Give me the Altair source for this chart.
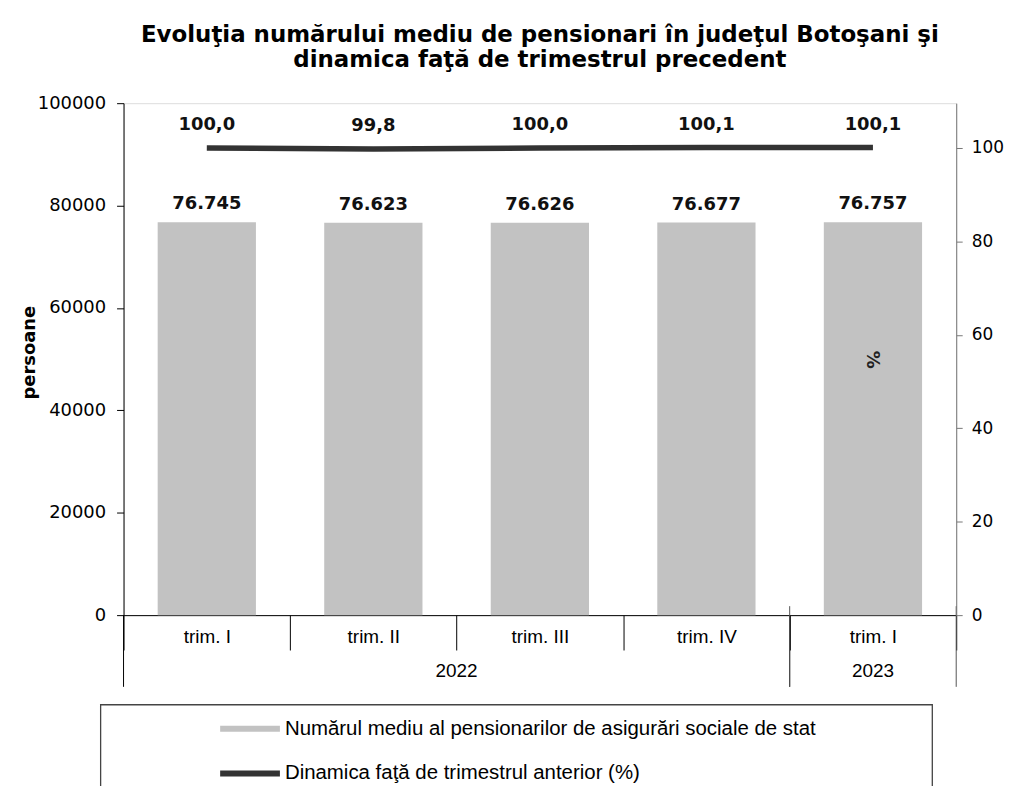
import json
import altair as alt
import pandas as pd

# ---- data ----
quarters = ["trim. I", "trim. II", "trim. III", "trim. IV", "trim. I"]
years = ["2022", "2022", "2022", "2022", "2023"]
pensioners = [76745, 76623, 76626, 76677, 76757]
dynamics = [100.0, 99.8, 100.0, 100.1, 100.1]

left_ticks = [0, 20000, 40000, 60000, 80000, 100000]
right_ticks = [0, 20, 40, 60, 80, 100]

title_lines = [
    "Evoluţia numărului mediu de pensionari în judeţul Botoşani şi",
    "dinamica  faţă de trimestrul precedent",
]
series_bar = "Numărul mediu al pensionarilor de asigurări sociale de stat"
series_line = "Dinamica faţă de trimestrul anterior (%)"

# ---- tables built from the arrays ----
keys = [f"{y} {q}" for y, q in zip(years, quarters)]
df = pd.DataFrame({"key": keys, "persons": pensioners, "dyn": dynamics})

year_groups = {}
for k, y in zip(keys, years):
    year_groups.setdefault(y, []).append(k)

first_keys = pd.DataFrame({"key": [v[0] for v in year_groups.values()]})
last_keys = pd.DataFrame({"key": [v[-1] for v in year_groups.values()]})
# year label anchors: middle of each year's categories
odd_rows, even_rows = [], []
for y, ks in year_groups.items():
    n = len(ks)
    if n % 2 == 1:
        odd_rows.append({"key": ks[n // 2], "year": y})
    else:
        even_rows.append({"key": ks[n // 2 - 1], "year": y})

FONT_NUM = "DejaVu Sans"
FONT_TXT = "Liberation Sans"

x_scale = alt.Scale(domain=keys, paddingInner=0, paddingOuter=0)
x_axis = alt.Axis(
    title=None,
    labelExpr="substring(datum.label, 5)",
    tickBand="extent",
    tickSize=35,
    tickColor="black",
    domainColor="black",
    labelPadding=-23,
    labelAngle=0,
    labelFont=FONT_TXT,
    labelFontSize=19,
    labelColor="black",
    grid=False,
)


def xenc(band=0.5):
    return alt.X("key:N", scale=x_scale, axis=x_axis, sort=keys, bandPosition=band)


base = alt.Chart(df)

left_y = alt.Y(
    "persons:Q",
    scale=alt.Scale(domain=[0, 100000], nice=False),
    axis=alt.Axis(
        values=left_ticks,
        format="d",
        title="persoane",
        titleFont=FONT_NUM,
        titleFontSize=18,
        titleFontWeight="bold",
        titleColor="black",
        titleX=-94,
        titleY=250,
        titleAngle=270,
        titleAlign="center",
        titleBaseline="middle",
        labelFont=FONT_NUM,
        labelFontSize=18,
        labelColor="black",
        tickColor="black",
        domainColor="black",
        tickSize=7,
        labelPadding=11,
        grid=False,
    ),
)

bars = base.mark_bar(width=alt.RelativeBandSize(0.59), color="#c2c2c2").encode(
    x=xenc(), y=left_y
)
bar_labels = base.mark_text(
    dy=-13, baseline="alphabetic", font=FONT_NUM, fontSize=18, fontWeight="bold", color="#111"
).encode(x=xenc(), y=left_y, text=alt.Text("persons:Q", format=",d"))

right_y = alt.Y(
    "dyn:Q",
    scale=alt.Scale(domain=[0, 109.6], nice=False),
    axis=alt.Axis(
        orient="right",
        values=right_ticks,
        title="%",
        titleX=-85,
        titleY=257,
        titleAngle=90,
        titleAlign="center",
        titleBaseline="middle",
        titleFont=FONT_NUM,
        titleFontSize=18,
        titleFontWeight="bold",
        titleColor="#222",
        labelFont=FONT_NUM,
        labelFontSize=17,
        labelColor="black",
        tickColor="#777",
        domainColor="#777",
        tickSize=6,
        labelPadding=9,
        grid=False,
        zindex=1,
    ),
)

line = (
    base.transform_calculate(series=json.dumps(series_line))
    .mark_line(strokeWidth=5.5, strokeCap="butt")
    .encode(
        x=xenc(),
        y=right_y,
        color=alt.Color(
            "series:N",
            scale=alt.Scale(domain=[series_bar, series_line], range=["#c2c2c2", "#333333"]),
            legend=alt.Legend(
                title=None,
                orient="none",
                legendX=94,
                legendY=595,
                direction="vertical",
                symbolType="stroke",
                symbolSize=3600,
                symbolStrokeWidth=6,
                labelFont=FONT_TXT,
                labelFontSize=20.5,
                labelColor="black",
                labelOffset=2,
                rowPadding=-17,
                labelLimit=800,
            ),
        ),
    )
)
line_labels = base.mark_text(
    dy=-18, baseline="alphabetic", font=FONT_NUM, fontSize=18, fontWeight="bold", color="#111"
).encode(x=xenc(), y=right_y, text=alt.Text("dyn:Q", format=".1f"))

# extended separators under the axis (year boundaries)
sep_first = alt.Chart(first_keys).mark_rule(color="black", strokeWidth=1).encode(
    x=xenc(0), y=alt.value(514), y2=alt.value(586)
)
sep_last = alt.Chart(last_keys).mark_rule(color="#555", strokeWidth=1).encode(
    x=xenc(1), y=alt.value(505), y2=alt.value(586)
)

year_text_kw = dict(font=FONT_TXT, fontSize=19, color="black", baseline="middle", align="center")
year_layers = []
if odd_rows:
    year_layers.append(
        alt.Chart(pd.DataFrame(odd_rows)).mark_text(**year_text_kw).encode(
            x=xenc(0.5), y=alt.value(570), text="year:N"
        )
    )
if even_rows:
    year_layers.append(
        alt.Chart(pd.DataFrame(even_rows)).mark_text(**year_text_kw).encode(
            x=xenc(1), y=alt.value(570), text="year:N"
        )
    )

legend_box = alt.Chart(pd.DataFrame({"b": [0]})).mark_rect(
    fill="white", fillOpacity=0, stroke="#444", strokeWidth=1.3
).encode(x=alt.value(-23), x2=alt.value(812), y=alt.value(604), y2=alt.value(720))

left_layer = alt.layer(bars, bar_labels)
right_layer = alt.layer(line, line_labels)

chart = (
    alt.layer(left_layer, right_layer, sep_first, sep_last, *year_layers, legend_box)
    .resolve_scale(y="independent")
    .properties(
        width=836,
        height=514,
        title=alt.Title(
            title_lines,
            font=FONT_NUM,
            fontSize=23,
            fontWeight="bold",
            color="black",
            lineHeight=25,
            anchor="middle",
            offset=22,
        ),
        autosize=alt.AutoSizeParams(type="none"),
        padding={"left": 116, "top": 94, "right": 52, "bottom": 170},
    )
    .configure_view(stroke=None)
    .configure(
        background="white",
        locale={
            "number": {
                "decimal": ",",
                "thousands": ".",
                "grouping": [3],
                "currency": ["", ""],
            }
        },
    )
)

chart.save("out.html", embed_options={"renderer": "svg", "actions": False})
